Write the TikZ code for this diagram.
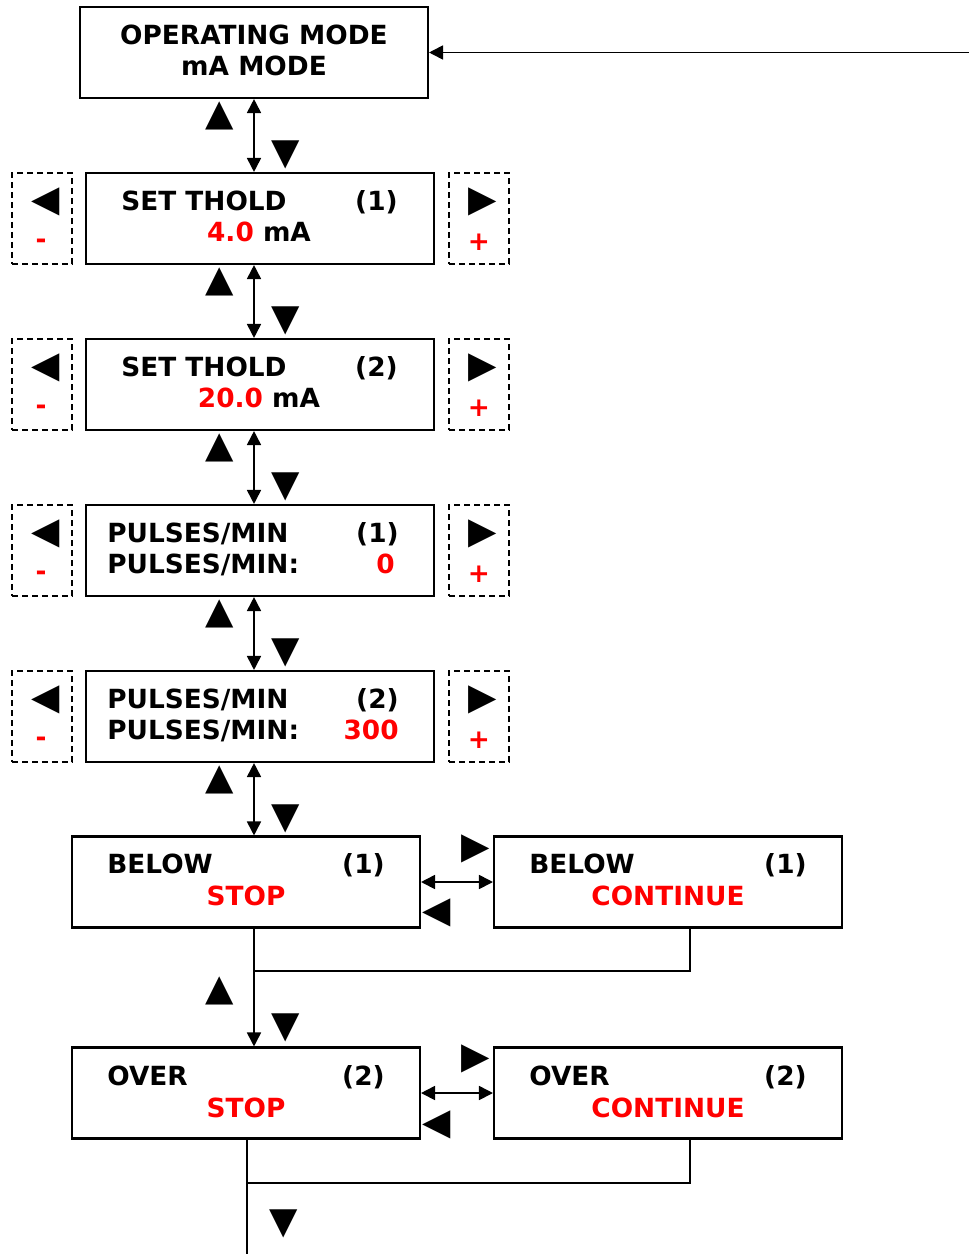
\documentclass[tikz,border=0pt]{standalone}
\usepackage{fontspec}
\setmainfont{DejaVu Sans}
\usetikzlibrary{arrows.meta}
\begin{document}
\begin{tikzpicture}[x=0.02cm,y=-0.02cm,font=\fontsize{15}{18}\selectfont\bfseries]
            \tikzstyle{ecran}=[draw,line width=1.2pt,minimum width=6.96cm,minimum height=1.82cm,inner sep=0]
            \tikzstyle{touche}=[draw,dash pattern=on 0.12cm off 0.08cm,line width=0.8pt,minimum width=1.2cm,minimum height=1.82cm,inner sep=0]
            \tikzstyle{txt}=[inner sep=0,anchor=base west]
            \tikzstyle{num}=[inner sep=0,anchor=base east]
            \tikzstyle{mil}=[inner sep=0,anchor=base]
            \tikzstyle{fl}=[inner sep=0,font=\fontsize{21}{21}\selectfont]
            \tikzstyle{signe}=[inner sep=0,text=red]
            \tikzstyle{ligne}=[line width=1pt]
            \tikzstyle{lien}=[ligne,-{Triangle[length=0.28cm,width=0.28cm]}]
            \tikzstyle{dbl}=[ligne,{Triangle[length=0.28cm,width=0.28cm]}-{Triangle[length=0.28cm,width=0.28cm]}]
            \useasboundingbox (0,0) rectangle (969,1254);
            % ecrans
            \node[ecran] (mode) at (254,52.5) {};
            \node[ecran] (s1) at (260,218.5) {};
            \node[ecran] (s2) at (260,384.5) {};
            \node[ecran] (p1) at (260,550.5) {};
            \node[ecran] (p2) at (260,716.5) {};
            \node[ecran] (bs) at (246,882) {};
            \node[ecran] (bc) at (668,882) {};
            \node[ecran] (os) at (246,1093) {};
            \node[ecran] (oc) at (668,1093) {};
            % textes
            \node[mil] (m1) at (254,44) {OPERATING MODE};
            \node[mil] (m2) at (254,75) {mA MODE};
            \node[txt] (t1) at (121,210) {SET THOLD};
            \node[num] (n1) at (398,210) {(1)};
            \node[mil] (v1) at (259,241) {\textcolor{red}{4.0} mA};
            \node[txt] (t2) at (121,376) {SET THOLD};
            \node[num] (n2) at (398,376) {(2)};
            \node[mil] (v2) at (259,407) {\textcolor{red}{20.0} mA};
            \node[txt] (t3) at (107,542) {PULSES/MIN};
            \node[num] (n3) at (399,542) {(1)};
            \node[txt] (u3) at (107,573) {PULSES/MIN:};
            \node[num,text=red] (v3) at (395,573) {0};
            \node[txt] (t4) at (107,708) {PULSES/MIN};
            \node[num] (n4) at (399,708) {(2)};
            \node[txt] (u4) at (107,739) {PULSES/MIN:};
            \node[num,text=red] (v4) at (399,739) {300};
            \node[txt] (t5) at (107,873) {BELOW};
            \node[num] (n5) at (385,873) {(1)};
            \node[mil,text=red] (v5) at (246,905) {STOP};
            \node[txt] (t6) at (529,873) {BELOW};
            \node[num] (n6) at (807,873) {(1)};
            \node[mil,text=red] (v6) at (668,905) {CONTINUE};
            \node[txt] (t7) at (107,1085) {OVER};
            \node[num] (n7) at (385,1085) {(2)};
            \node[mil,text=red] (v7) at (246,1117) {STOP};
            \node[txt] (t8) at (529,1085) {OVER};
            \node[num] (n8) at (807,1085) {(2)};
            \node[mil,text=red] (v8) at (668,1117) {CONTINUE};
            % touches - et +
            \foreach \y [count=\i] in {218.5,384.5,550.5,716.5} {
                \node[touche] (g\i) at (42,\y) {};
                \node[touche] (d\i) at (479,\y) {};
                \node[fl] (gf\i) at (46,\y-16.5) {◀};
                \node[fl] (df\i) at (483,\y-16.5) {▶};
                \node[signe] (moins\i) at (41,\y+25.5) {-};
                \node[signe] (plus\i) at (479,\y+23.5) {+};
            }
            % fleches haut et bas
            \foreach \y [count=\i] in {0,166,332,498,664} {
                \node[fl] (h\i) at (220,116+\y) {▲};
                \node[fl] (b\i) at (286,155+\y) {▼};
            }
            \node[fl] (h6) at (220,991) {▲};
            \node[fl] (b6) at (286,1028) {▼};
            \node[fl] (b7) at (284,1224) {▼};
            \node[fl] (r1) at (476,849) {▶};
            \node[fl] (l1) at (437,913) {◀};
            \node[fl] (r2) at (476,1059) {▶};
            \node[fl] (l2) at (437,1125) {◀};
            % liaisons
            \coordinate (entree) at (969,52.5);
            \draw[lien] (entree) -- (mode);
            \draw[dbl] (mode) -- (mode |- s1.north);
            \draw[dbl] (s1.south -| mode) -- (s2.north -| mode);
            \draw[dbl] (s2.south -| mode) -- (p1.north -| mode);
            \draw[dbl] (p1.south -| mode) -- (p2.north -| mode);
            \draw[dbl] (p2.south -| mode) -- (bs.north -| mode);
            \draw[dbl] (bs) -- (bc);
            \draw[dbl] (os) -- (oc);
            \draw[lien] (bs.south -| mode) -- (os.north -| mode);
            \coordinate (j1) at (253,971);
            \coordinate (k1) at (690,971);
            \draw[ligne] (k1 |- bc.south) -- (k1) -- (j1);
            \coordinate (j2) at (247,1183);
            \coordinate (k2) at (690,1183);
            \coordinate (fin) at (247,1254);
            \draw[ligne] (j2 |- os.south) -- (fin);
            \draw[ligne] (k2 |- oc.south) -- (k2) -- (j2);
\end{tikzpicture}
\end{document}
